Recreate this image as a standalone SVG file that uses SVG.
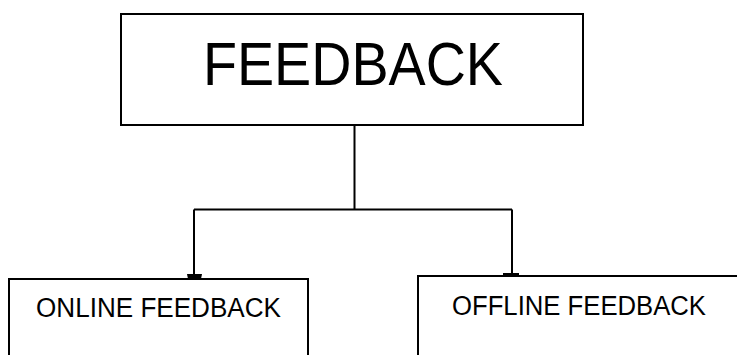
<svg xmlns="http://www.w3.org/2000/svg" width="737" height="355" viewBox="0 0 737 355">
<style>
.box{fill:#fff;stroke:#000;stroke-width:2}
.lbl{font-family:"Liberation Sans",Arial,sans-serif;fill:#000}
.con{fill:none;stroke:#000;stroke-width:2}
</style>
<rect width="737" height="355" fill="#fff"/>
<g id="node-feedback">
<rect class="box" x="121" y="14" width="462" height="111"/>
<text class="lbl" x="203" y="85" font-size="62" textLength="300" lengthAdjust="spacingAndGlyphs">FEEDBACK</text>
</g>
<g id="node-online">
<rect class="box" x="9" y="279" width="299" height="90"/>
<text class="lbl" x="36" y="317" font-size="27" textLength="245" lengthAdjust="spacingAndGlyphs">ONLINE FEEDBACK</text>
</g>
<g id="node-offline">
<rect class="box" x="418" y="276" width="330" height="90"/>
<text class="lbl" x="452" y="315" font-size="27" textLength="254" lengthAdjust="spacingAndGlyphs">OFFLINE FEEDBACK</text>
</g>
<g id="connectors">
<path class="con" d="M354.5 126 V209.5 M194 209.5 H512 M194 209.5 V276 M512 209.5 V274"/>
<polygon points="187,274 202,274 201,279 188,279" fill="#000"/>
<rect x="503" y="273" width="16" height="3" fill="#000"/>
</g>
</svg>
